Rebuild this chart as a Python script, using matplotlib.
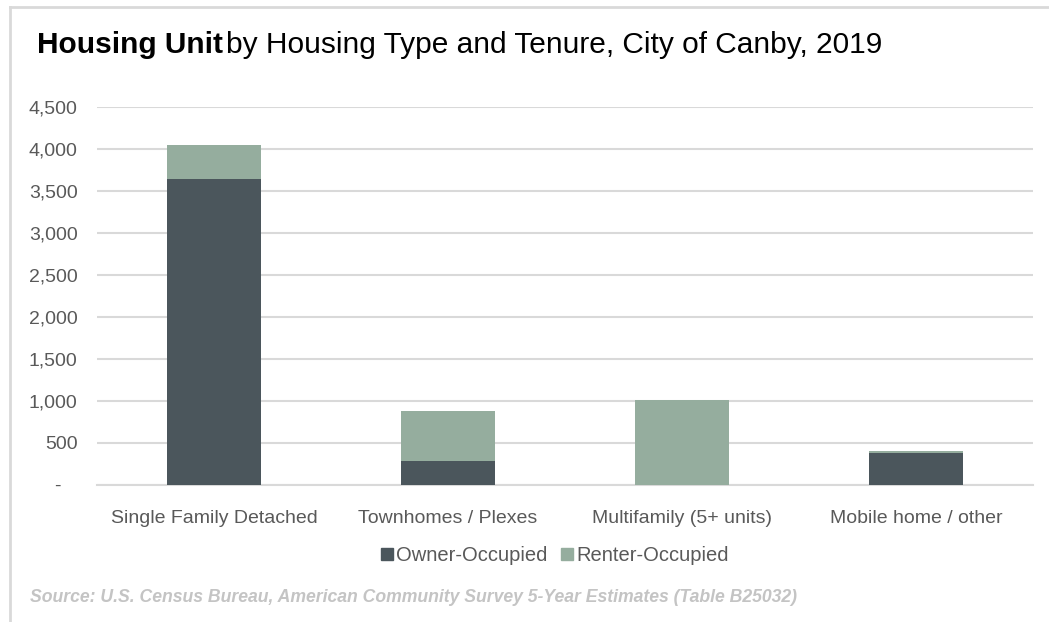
import numpy as np
import matplotlib.pyplot as plt
from matplotlib.lines import Line2D

plt.rcParams['font.family'] = ['Liberation Sans', 'DejaVu Sans']

# data
categories = ['Single Family Detached', 'Townhomes / Plexes', 'Multifamily (5+ units)', 'Mobile home / other']
owner = [3645, 285, 0, 380]
renter = [400, 595, 1015, 25]
yticks = [0, 500, 1000, 1500, 2000, 2500, 3000, 3500, 4000, 4500]
ytick_labels = ['-   ', '500', '1,000', '1,500', '2,000', '2,500', '3,000', '3,500', '4,000', '4,500']

owner_col = '#4B565C'
renter_col = '#95AD9E'
grey = '#595959'

fig = plt.figure(figsize=(10.49, 6.22), dpi=100)
ax = fig.add_axes([0.0925, 0.2203, 0.8925, 0.6077])

x = np.arange(len(categories))
ax.bar(x, owner, width=0.4, color=owner_col, zorder=3, label='Owner-Occupied')
ax.bar(x, renter, width=0.4, bottom=owner, color=renter_col, zorder=3, label='Renter-Occupied')

ax.set_xlim(-0.5, 3.5)
ax.set_ylim(0, 4500)
ax.set_yticks(yticks)
ax.set_yticklabels(ytick_labels)
ax.set_xticks(x)
ax.set_xticklabels(categories)
ax.tick_params(axis='both', length=0, colors=grey, labelsize=14)
ax.tick_params(axis='y', pad=14)
ax.tick_params(axis='x', pad=18)
ax.grid(axis='y', color='#D9D9D9', linewidth=1.5, zorder=0)
for s in ['top', 'right', 'left']:
    ax.spines[s].set_visible(False)
ax.spines['bottom'].set_color('#D9D9D9')
ax.spines['bottom'].set_linewidth(1.5)

# legend
handles = [Line2D([], [], marker='s', linestyle='', color=owner_col, markersize=9),
           Line2D([], [], marker='s', linestyle='', color=renter_col, markersize=9)]
leg = fig.legend(handles, ['Owner-Occupied', 'Renter-Occupied'], loc='center',
                 bbox_to_anchor=(0.528, 0.107), ncol=2, frameon=False, fontsize=14.5,
                 handletextpad=0.05, columnspacing=0.6, handlelength=0.8)
for t in leg.get_texts():
    t.set_color(grey)

# title: bold part then normal part
r = fig.canvas.get_renderer()
t1 = fig.text(0.035, 0.927, 'Housing Unit', fontsize=21.5, fontweight='bold', color='black', va='center')
bb = t1.get_window_extent(renderer=r)
x2 = (bb.x1 + 3) / fig.bbox.width
fig.text(x2, 0.927, 'by Housing Type and Tenure, City of Canby, 2019', fontsize=21.5, color='black', va='center')

# source
fig.text(0.029, 0.04, 'Source: U.S. Census Bureau, American Community Survey 5-Year Estimates (Table B25032)',
         fontsize=12.7, style='italic', fontweight='bold', color='#C4C4C4', va='center')

# frame around the chart
fig.add_artist(Line2D([0.0095, 0.0095], [0, 0.989], color='#D9D9D9', linewidth=2, transform=fig.transFigure))
fig.add_artist(Line2D([0.0095, 1.0], [0.989, 0.989], color='#D9D9D9', linewidth=2, transform=fig.transFigure))

plt.savefig('out.png', dpi=100)
plt.close()
